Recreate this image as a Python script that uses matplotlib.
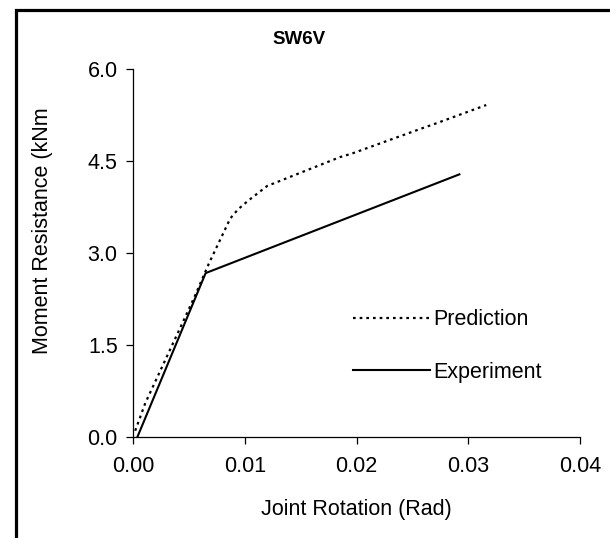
import matplotlib.pyplot as plt
from matplotlib.patches import Rectangle

plt.rcParams['font.family'] = ['Liberation Sans', 'DejaVu Sans']

# joint rotation (rad) vs moment resistance (kNm)
exp_rot = [0.0004, 0.0065, 0.0292]
exp_mom = [0.00, 2.67, 4.28]

pred_rot = [0.0002, 0.0011, 0.0055, 0.0068, 0.0087, 0.0094, 0.0103, 0.0120,
            0.0185, 0.0196, 0.0260, 0.0271, 0.0316]
pred_mom = [0.10, 0.55, 2.28, 2.83, 3.56, 3.71, 3.85, 4.09,
            4.56, 4.62, 5.04, 5.11, 5.41]

x_ticks = [0.00, 0.01, 0.02, 0.03, 0.04]
y_ticks = [0.0, 1.5, 3.0, 4.5, 6.0]

fs = 15.5

fig = plt.figure(figsize=(6.10, 5.38), dpi=100)
ax = fig.add_axes([0.218, 0.188, 0.733, 0.684])

ax.plot(pred_rot, pred_mom, color='black', lw=1.6, ls=(0, (1.2, 1.8)),
        label='Prediction')
ax.plot(exp_rot, exp_mom, color='black', lw=1.5, label='Experiment')

ax.set_xlim(0, 0.04)
ax.set_ylim(0, 6)
ax.set_xticks(x_ticks)
ax.set_xticklabels([f'{v:.2f}' for v in x_ticks])
ax.set_yticks(y_ticks)
ax.set_yticklabels([f'{v:.1f}' for v in y_ticks])
for s in ['top', 'right']:
    ax.spines[s].set_visible(False)
for s in ['left', 'bottom']:
    ax.spines[s].set_linewidth(0.9)
ax.tick_params(direction='out', length=5, width=0.9, labelsize=fs)
ax.tick_params(axis='x', pad=9)
ax.tick_params(axis='y', pad=6)

leg = ax.legend(loc='center left', bbox_to_anchor=(0.492, 0.247), frameon=False,
                fontsize=fs, handlelength=3.6, handletextpad=0.15,
                labelspacing=1.45, borderaxespad=0, borderpad=0)

fig.text(0.49, 0.926, 'SW6V', ha='center', va='center', fontsize=13.5,
         fontweight='bold')
fig.text(0.584, 0.053, 'Joint Rotation (Rad)', ha='center', va='center',
         fontsize=fs)
fig.text(0.069, 0.572, 'Moment Resistance (kNm', ha='center', va='center',
         rotation=90, fontsize=fs)

# chart area border (clipped on the right and bottom)
fig.patches.append(Rectangle((0.026, -0.1), 1.2, 1.082, transform=fig.transFigure,
                             fill=False, lw=2.3, ec='black'))

fig.savefig('out.png', dpi=100)
